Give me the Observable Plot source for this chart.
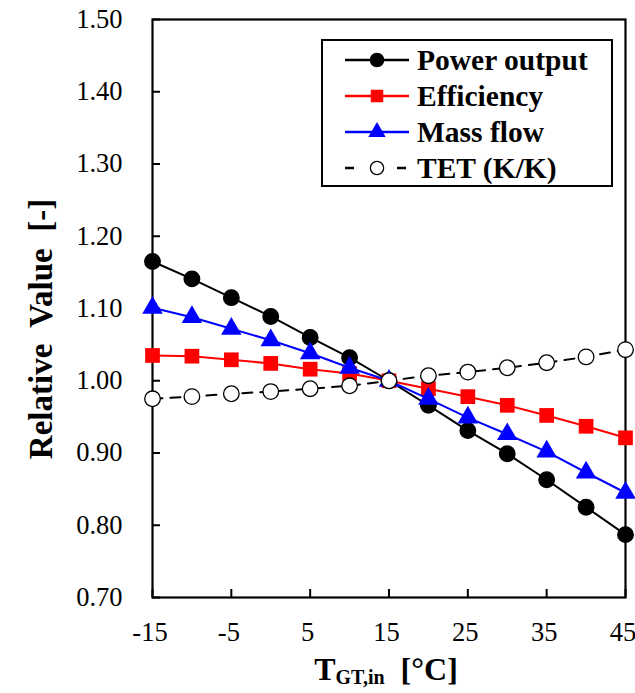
<!DOCTYPE html>
<html><head><meta charset="utf-8">
<script src="https://cdn.jsdelivr.net/npm/d3@7"></script>
<script src="https://cdn.jsdelivr.net/npm/@observablehq/plot@0.6"></script>
<style>body{margin:0;background:#fff}#chart{width:635px;height:693px}
#chart svg text{font-family:"Liberation Serif","Times New Roman",serif}</style>
</head><body><div id="chart"></div>
<script>
const temps = [-15, -10, -5, 0, 5, 10, 15, 20, 25, 30, 35, 40, 45];
const powerOutput = [1.165, 1.141, 1.115, 1.089, 1.060, 1.032, 1.000, 0.966, 0.931, 0.899, 0.863, 0.825, 0.787];
const efficiency = [1.035, 1.034, 1.029, 1.024, 1.016, 1.010, 1.000, 0.989, 0.978, 0.966, 0.952, 0.937, 0.921];
const massFlow = [1.101, 1.088, 1.072, 1.056, 1.038, 1.018, 1.000, 0.975, 0.949, 0.926, 0.902, 0.873, 0.845];
const tet = [0.975, 0.978, 0.982, 0.985, 0.989, 0.993, 1.000, 1.007, 1.012, 1.018, 1.025, 1.033, 1.043];
const seriesNames = ["Power output", "Efficiency", "Mass flow", "TET (K/K)"];
const xTicks = [-15, -5, 5, 15, 25, 35, 45];
const xTickLabels = ["-15", "-5", "5", "15", "25", "35", "45"];
const yTicks = [0.7, 0.8, 0.9, 1.0, 1.1, 1.2, 1.3, 1.4, 1.5];
const yTickLabels = ["0.70", "0.80", "0.90", "1.00", "1.10", "1.20", "1.30", "1.40", "1.50"];

const styles = [
  {stroke: "#000", fill: "#000", symbol: "circle", r: 7.8, dash: null},
  {stroke: "#ff0000", fill: "#ff0000", symbol: "square", r: 8.3, dash: null},
  {stroke: "#0000ff", fill: "#0000ff", symbol: "triangle", r: 7.6, dash: null},
  {stroke: "#000", fill: "#fff", symbol: "circle", r: 7.8, dash: "10,8"}
];
const valuesList = [powerOutput, efficiency, massFlow, tet];
const series = seriesNames.map((name, k) => ({
  name, style: styles[k],
  data: temps.map((t, i) => ({t, v: valuesList[k][i]}))
}));

const lookup = (ticks, labels) => d => labels[ticks.findIndex(t => Math.abs(t - d) < 1e-9)];
const ff = "Liberation Serif, Times New Roman, serif";

const marks = [
  Plot.axisY({ticks: yTicks, tickFormat: lookup(yTicks, yTickLabels), tickSize: -8, tickPadding: 38, strokeWidth: 2, label: null, fontSize: 26.5}),
  Plot.axisX({ticks: xTicks, tickFormat: () => "", tickSize: -8, strokeWidth: 2, label: null}),
  Plot.axisX({ticks: xTicks, tickFormat: lookup(xTicks, xTickLabels), tickSize: 0, tickPadding: 25, label: null, fontSize: 26.5, dx: -2.5}),
  Plot.frame({stroke: "#000", strokeWidth: 2.2})
];
for (const s of series) {
  marks.push(Plot.line(s.data, {x: "t", y: "v", stroke: s.style.stroke, strokeWidth: 2, strokeDasharray: s.style.dash}));
  marks.push(Plot.dot(s.data, {x: "t", y: "v", symbol: () => s.style.symbol, r: s.style.r, fill: s.style.fill, stroke: s.style.symbol === "circle" ? "#000" : "none", strokeWidth: 1.3}));
}

const chart = Plot.plot({
  width: 635, height: 693,
  marginLeft: 152, marginRight: 10, marginTop: 19, marginBottom: 96,
  x: {domain: [-15, 45]},
  y: {domain: [0.7, 1.5]},
  style: {fontFamily: ff, fontSize: "26px", color: "#000", background: "#fff", overflow: "visible"},
  marks
});
document.getElementById("chart").appendChild(chart);

const svg = d3.select(chart);
// Y title
svg.append("text").attr("transform", "translate(52,329) rotate(-90)")
  .attr("text-anchor", "middle").attr("font-weight", "bold")
  .attr("font-size", 33).attr("fill", "#000").style("white-space", "pre")
  .text("Relative  Value  [-]");
// X title
const xt = svg.append("text").attr("x", 386).attr("y", 680).attr("text-anchor", "middle")
  .attr("font-weight", "bold").attr("font-size", 32).attr("fill", "#000");
xt.append("tspan").text("T");
xt.append("tspan").attr("font-size", 20).attr("dy", 4).text("GT,in");
xt.append("tspan").attr("dy", -4).text("\u00a0\u00a0[\u00b0C]");

// Legend
const lg = svg.append("g").attr("text-anchor", "start");
lg.append("rect").attr("x", 322).attr("y", 40).attr("width", 290).attr("height", 146)
  .attr("fill", "#fff").attr("stroke", "#000").attr("stroke-width", 2);
series.forEach((s, k) => {
  const cy = 60 + k * 36;
  lg.append("line").attr("x1", 345).attr("x2", s.style.dash ? 406 : 409).attr("y1", cy).attr("y2", cy)
    .attr("stroke", s.style.stroke).attr("stroke-width", 2.5)
    .attr("stroke-dasharray", s.style.dash ? "9,43" : null);
  const sym = s.style.symbol === "circle" ? d3.symbolCircle : s.style.symbol === "square" ? d3.symbolSquare : d3.symbolTriangle;
  const r = s.style.r * 0.85;
  lg.append("path").attr("d", d3.symbol(sym, Math.PI * r * r)()).attr("transform", `translate(377,${cy})`)
    .attr("fill", s.style.fill).attr("stroke", s.style.symbol === "circle" ? "#000" : "none").attr("stroke-width", 1.3);
  lg.append("text").attr("x", 417).attr("y", cy).attr("dy", "0.33em").attr("text-anchor", "start")
    .attr("font-weight", "bold").attr("font-size", 29.5).attr("fill", "#000").text(s.name);
});
</script></body></html>
